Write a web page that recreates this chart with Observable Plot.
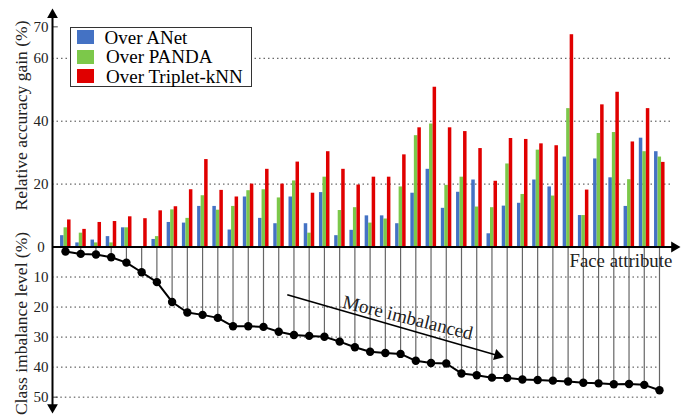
<!DOCTYPE html>
<html><head><meta charset="utf-8">
<script src="https://cdn.jsdelivr.net/npm/d3@7"></script>
<script src="https://cdn.jsdelivr.net/npm/@observablehq/plot@0.6"></script>
<style>
html,body{margin:0;padding:0;background:#fff;}
#wrap{position:relative;width:682px;height:415px;overflow:hidden;font-family:"Liberation Serif","Tinos","DejaVu Serif","Times New Roman",Times,serif;}
#legend{position:absolute;left:70px;top:27px;width:180px;height:58px;border:1.5px solid #333;background:#fff;}
.sw{position:absolute;left:6px;width:17px;height:14px;}
.lb{position:absolute;left:35px;font-size:19px;line-height:19px;white-space:nowrap;color:#000;}
svg text{font-family:"Liberation Serif","Tinos","DejaVu Serif","Times New Roman",Times,serif !important;}
</style>
</head><body>
<div id="wrap"><div id="chart"></div><div id="legend"></div></div>
<script>
// ---- data ----
const attrs = d3.range(1, 41);
const anet = [3.6,1.3,2.2,3.3,6.1,0,2.4,7.8,7.6,12.9,12.9,5.4,15.9,9.1,7.4,15.9,7.4,17.3,3.6,5.3,9.9,9.9,7.4,17.1,24.7,12.3,17.4,21.3,4.2,13.0,13.9,21.3,19.1,28.6,10.0,28.0,22.0,12.9,34.6,30.3];
const panda = [6.1,4.4,1.3,1.3,6.1,0,3.3,11.8,9.1,16.3,11.7,12.9,17.9,18.2,15.6,21.0,4.4,22.2,11.6,12.5,7.6,8.9,19.1,35.4,39.1,19.6,22.2,12.7,12.5,26.4,16.7,30.8,16.2,44.0,10.0,36.1,36.4,21.4,30.3,28.6];
const triplet = [8.6,5.6,7.8,8.1,9.6,9.0,11.5,12.8,18.2,27.8,18.0,15.9,20.0,24.7,20.0,27.0,17.1,30.3,24.7,19.7,22.2,22.2,29.3,37.9,50.8,37.9,36.7,31.3,20.9,34.5,34.2,32.8,32.2,67.5,18.1,45.2,49.2,33.4,44.0,26.9];
const imbalance = [1.5,2.3,2.5,3.4,5.2,8.4,11.7,18.3,21.8,22.6,23.6,26.4,26.4,26.6,28.2,29.3,29.6,29.9,31.5,33.4,34.9,35.3,35.6,37.9,38.6,38.8,42.1,42.7,43.5,43.6,44.1,44.3,44.5,44.8,45.2,45.4,45.7,45.6,45.9,47.7];
const seriesNames = ["Over ANet","Over PANDA","Over Triplet-kNN"];
const seriesColors = ["#4472C4","#7CC84A","#E00000"];
const gainTicks = [0,20,40,60,70];
const gainGrid = [20,40,60];
const imbTicks = [10,20,30,40,50];
const annotStart = [15.56, 15.9];   // [attribute position, imbalance level]
const annotHead = [29.38, 36.1];

// ---- layout helpers ----
const K = 0.955; // imbalance axis is drawn slightly more compact than gain axis
const xDomain = [0.1465, 40.854];
const imbY = v => -v * K;
const font = "'Liberation Serif', 'Tinos', 'DejaVu Serif', 'Times New Roman', Times, serif";

const rows = attrs.map((a, k) => ({a, anet: anet[k], panda: panda[k], triplet: triplet[k], imb: imbalance[k]}));
const barW = 0.23;
const keys = ["anet","panda","triplet"];
const barMarks = keys.map((key, idx) => Plot.rect(rows, {
  x1: d => d.a + (idx - 1) * barW - barW / 2 + 0.02,
  x2: d => d.a + (idx - 1) * barW + barW / 2 + 0.02,
  y1: 0, y2: key, fill: seriesColors[idx]
}));

const chart = Plot.plot({
  width: 682, height: 415,
  marginLeft: 52, marginRight: 10, marginTop: 0, marginBottom: 0,
  style: {fontFamily: font},
  x: {domain: xDomain, axis: null},
  y: {domain: [-53.58, 78.38], axis: null},
  marks: [
    Plot.ruleY(gainGrid, {y: d => d, x1: xDomain[0], x2: xDomain[1], stroke: "#444", strokeDasharray: "1.5,3"}),
    Plot.ruleY(imbTicks.slice(0, 4), {y: d => imbY(d), x1: xDomain[0], x2: 39.87, stroke: "#444", strokeDasharray: "1.5,3"}),
    Plot.ruleY([50], {y: d => imbY(d), x1: xDomain[0] + 0.25, x2: 39.87, stroke: "#444", strokeDasharray: "1.5,3"}),
    Plot.ruleY([70], {y: d => d, x1: xDomain[0], x2: xDomain[0] + 0.38, stroke: "#444"}),
    Plot.ruleY([50], {y: d => imbY(d), x1: xDomain[0], x2: xDomain[0] + 0.38, stroke: "#444"}),
    ...barMarks,
    Plot.ruleX(rows, {x: "a", y1: 0, y2: d => imbY(d.imb), stroke: "#666", strokeWidth: 1.2}),
    Plot.line(rows, {x: "a", y: d => imbY(d.imb), stroke: "#000", strokeWidth: 2}),
    Plot.dot(rows, {x: "a", y: d => imbY(d.imb), r: 4.2, fill: "#000"}),
    // axes
    Plot.ruleY([0], {x1: xDomain[0], x2: 41.05, stroke: "#000", strokeWidth: 2}),
    Plot.dot([0], {x: 40.97, y: 0, symbol: "triangle", r: 4, fill: "#000", rotate: 90}),
    Plot.ruleX([xDomain[0]], {y1: 73.9, y2: -50.4, stroke: "#000", strokeWidth: 2}),
    Plot.dot([0], {x: xDomain[0], y: 73.83, symbol: "triangle", r: 4, fill: "#000"}),
    Plot.dot([0], {x: xDomain[0], y: -50.97, symbol: "triangle", r: 4, fill: "#000", rotate: 180}),
    // annotation arrow
    Plot.link([0], {x1: annotStart[0], y1: imbY(annotStart[1]), x2: annotHead[0], y2: imbY(annotHead[1]), stroke: "#000", strokeWidth: 1.6}),
    Plot.dot([0], {x: annotHead[0], y: imbY(annotHead[1]), symbol: "triangle", r: 4.2, fill: "#000", rotate: 106}),
    // tick labels
    Plot.text(gainTicks, {y: d => d, text: d => String(d), frameAnchor: "left", dx: -11.4, textAnchor: "middle", fontSize: 15, fontFamily: font, fill: "#222"}),
    Plot.text(imbTicks, {y: d => imbY(d), text: d => String(d), frameAnchor: "left", dx: -11.4, textAnchor: "middle", fontSize: 15, fontFamily: font, fill: "#222"}),
    // axis titles
    Plot.text(["Relative accuracy gain (%)"], {frameAnchor: "top-left", dx: -25.5, dy: 115, rotate: -90, textAnchor: "middle", lineAnchor: "bottom", fontSize: 17.5, fontFamily: font, fill: "#222"}),
    Plot.text(["Class imbalance level (%)"], {frameAnchor: "top-left", dx: -25.5, dy: 323, rotate: -90, textAnchor: "middle", lineAnchor: "bottom", fontSize: 17.5, fontFamily: font, fill: "#222"}),
    Plot.text(["Face attribute"], {frameAnchor: "top-left", dx: 517, dy: 266.7, textAnchor: "start", lineAnchor: "bottom", fontSize: 18.8, fontFamily: font, fill: "#222"}),
    Plot.text(["More imbalanced"], {frameAnchor: "top-left", dx: 289, dy: 307, rotate: 14, textAnchor: "start", lineAnchor: "bottom", fontSize: 19, fontFamily: font, fill: "#222"})
  ]
});
document.getElementById("chart").appendChild(chart);

// legend
const leg = document.getElementById("legend");
seriesNames.forEach((name, k) => {
  const sw = document.createElement("div");
  sw.className = "sw"; sw.style.top = (2.2 + k * 19.3) + "px"; sw.style.background = seriesColors[k];
  leg.appendChild(sw);
  const lb = document.createElement("div");
  lb.className = "lb"; lb.style.top = (0 + k * 19.3) + "px"; lb.style.left = (k === 0 ? 33.5 : 35) + "px";
  lb.textContent = name;
  leg.appendChild(lb);
});
</script>
</body></html>
